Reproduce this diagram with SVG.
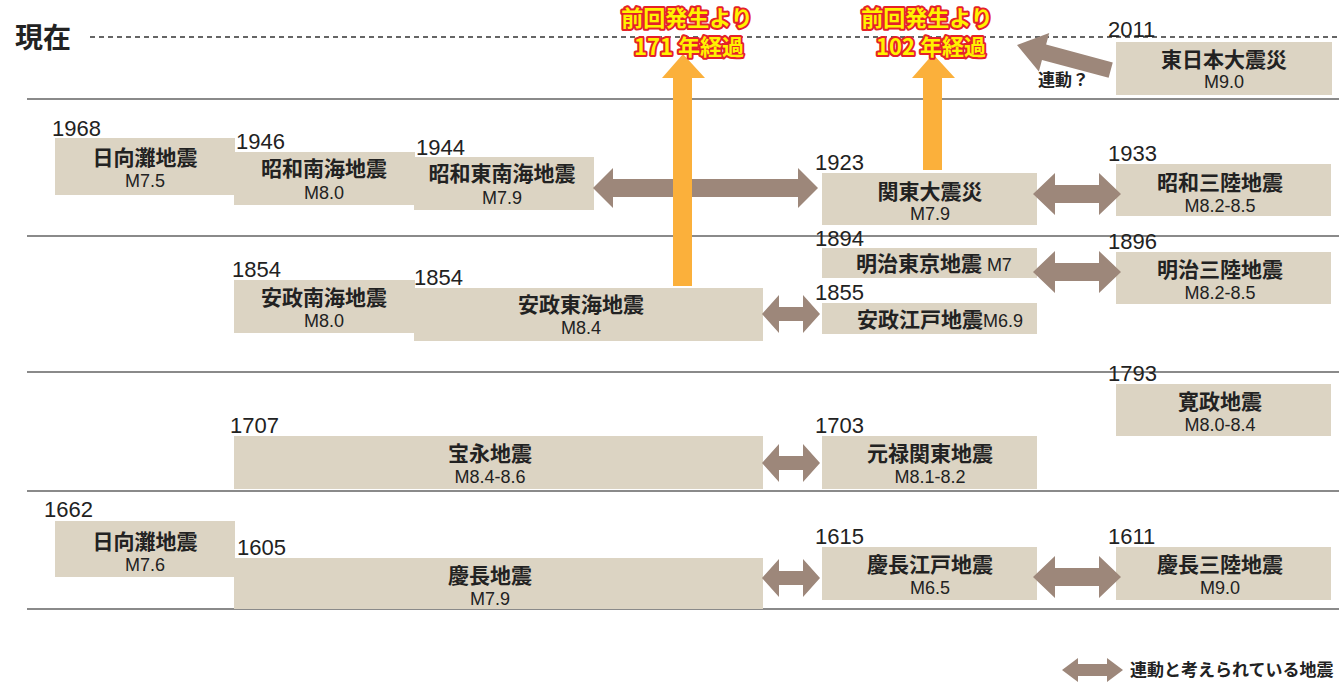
<svg xmlns="http://www.w3.org/2000/svg" width="1339" height="688" viewBox="0 0 1339 688">
<style>
.bg{fill:#ffffff}
.rule{stroke:#8a8a8a;stroke-width:2;fill:none}
.dash{stroke:#333333;stroke-width:1.5;stroke-dasharray:5 4;fill:none}
.box{fill:#dcd4c3}
.nm{font-family:"Noto Sans CJK JP","Noto Sans",sans-serif;font-size:21px;font-weight:700;fill:#222222;text-anchor:middle}
.mg{font-family:"Liberation Sans","Noto Sans",sans-serif;font-size:18px;fill:#222222;text-anchor:middle}
.yr{font-family:"Liberation Sans","Noto Sans",sans-serif;font-size:22px;fill:#222222}
.dbl{fill:#9d877a}
.ora{fill:#fbb03b}
.lbl{font-family:"Noto Sans CJK JP","Noto Sans",sans-serif;font-size:22px;font-weight:700;fill:#fff200;stroke:#e52129;stroke-width:4;stroke-linejoin:round;paint-order:stroke;text-anchor:middle}
.now{font-family:"Noto Sans CJK JP","Noto Sans",sans-serif;font-size:28px;font-weight:700;fill:#222222}
.sm{font-family:"Noto Sans CJK JP","Noto Sans",sans-serif;font-size:17px;font-weight:700;fill:#222222}
</style>
<rect class="bg" x="0" y="0" width="1339" height="688"/>
<g id="grid">
<line class="dash" x1="90" y1="37" x2="1339" y2="37"/>
<line class="rule" x1="27" y1="99" x2="1339" y2="99"/>
<line class="rule" x1="27" y1="236" x2="1339" y2="236"/>
<line class="rule" x1="27" y1="372" x2="1339" y2="372"/>
<line class="rule" x1="27" y1="491" x2="1339" y2="491"/>
<line class="rule" x1="27" y1="609" x2="1339" y2="609"/>
<text class="now" x="15" y="48">現在</text>
</g>
<g id="n2011"><rect class="box" x="1116" y="42" width="216" height="53"/><text class="yr" x="1108" y="37">2011</text><text class="nm" x="1224" y="67">東日本大震災</text><text class="mg" x="1224" y="88">M9.0</text></g>
<g id="n1968"><rect class="box" x="55" y="138" width="180" height="57"/><text class="yr" x="52" y="136">1968</text><text class="nm" x="145" y="165">日向灘地震</text><text class="mg" x="145" y="187">M7.5</text></g>
<g id="n1946"><rect class="box" x="234" y="152" width="181" height="53"/><text class="yr" x="236" y="149">1946</text><text class="nm" x="324" y="176">昭和南海地震</text><text class="mg" x="324" y="199">M8.0</text></g>
<g id="n1944"><rect class="box" x="414" y="157" width="180" height="53"/><text class="yr" x="416" y="155">1944</text><text class="nm" x="502" y="181">昭和東南海地震</text><text class="mg" x="502" y="204">M7.9</text></g>
<g id="n1923"><rect class="box" x="822" y="173" width="215" height="52"/><text class="yr" x="815" y="170">1923</text><text class="nm" x="930" y="199">関東大震災</text><text class="mg" x="930" y="220">M7.9</text></g>
<g id="n1933"><rect class="box" x="1116" y="164" width="215" height="52"/><text class="yr" x="1108" y="161">1933</text><text class="nm" x="1220" y="190">昭和三陸地震</text><text class="mg" x="1220" y="212">M8.2-8.5</text></g>
<g id="n1894"><rect class="box" x="822" y="248" width="215" height="30"/><text class="yr" x="815" y="246">1894</text><text class="nm" x="934" y="271">明治東京地震 <tspan style="font-family:'Liberation Sans',sans-serif;font-weight:400;font-size:18px">M7</tspan></text></g>
<g id="n1896"><rect class="box" x="1116" y="252" width="215" height="52"/><text class="yr" x="1108" y="249">1896</text><text class="nm" x="1220" y="277">明治三陸地震</text><text class="mg" x="1220" y="299">M8.2-8.5</text></g>
<g id="n1855"><rect class="box" x="822" y="303" width="215" height="31"/><text class="yr" x="815" y="300">1855</text><text class="nm" x="940" y="327">安政江戸地震<tspan style="font-family:'Liberation Sans',sans-serif;font-weight:400;font-size:18px">M6.9</tspan></text></g>
<g id="n1854a"><rect class="box" x="234" y="280" width="181" height="53"/><text class="yr" x="232" y="277">1854</text><text class="nm" x="324" y="305">安政南海地震</text><text class="mg" x="324" y="327">M8.0</text></g>
<g id="n1854b"><rect class="box" x="414" y="288" width="349" height="53"/><text class="yr" x="414" y="285">1854</text><text class="nm" x="581" y="312">安政東海地震</text><text class="mg" x="581" y="334">M8.4</text></g>
<g id="n1793"><rect class="box" x="1116" y="384" width="215" height="52"/><text class="yr" x="1108" y="381">1793</text><text class="nm" x="1220" y="409">寛政地震</text><text class="mg" x="1220" y="431">M8.0-8.4</text></g>
<g id="n1707"><rect class="box" x="234" y="436" width="529" height="53"/><text class="yr" x="230" y="433">1707</text><text class="nm" x="490" y="461">宝永地震</text><text class="mg" x="490" y="483">M8.4-8.6</text></g>
<g id="n1703"><rect class="box" x="822" y="436" width="215" height="53"/><text class="yr" x="815" y="433">1703</text><text class="nm" x="930" y="461">元禄関東地震</text><text class="mg" x="930" y="483">M8.1-8.2</text></g>
<g id="n1662"><rect class="box" x="55" y="521" width="180" height="56"/><text class="yr" x="44" y="517">1662</text><text class="nm" x="145" y="549">日向灘地震</text><text class="mg" x="145" y="571">M7.6</text></g>
<g id="n1605"><rect class="box" x="234" y="558" width="529" height="51"/><text class="yr" x="237" y="555">1605</text><text class="nm" x="490" y="583">慶長地震</text><text class="mg" x="490" y="605">M7.9</text></g>
<g id="n1615"><rect class="box" x="822" y="547" width="215" height="53"/><text class="yr" x="815" y="544">1615</text><text class="nm" x="930" y="572">慶長江戸地震</text><text class="mg" x="930" y="594">M6.5</text></g>
<g id="n1611"><rect class="box" x="1116" y="547" width="215" height="53"/><text class="yr" x="1108" y="544">1611</text><text class="nm" x="1220" y="572">慶長三陸地震</text><text class="mg" x="1220" y="594">M9.0</text></g>
<g id="connectors">
<path class="dbl" d="M593 188 L613 168 L613 179 L798 179 L798 168 L818 188 L798 208 L798 197 L613 197 L613 208 Z"/>
<path class="dbl" d="M1033 194 L1055 173 L1055 185 L1099 185 L1099 173 L1121 194 L1099 215 L1099 203 L1055 203 L1055 215 Z"/>
<path class="dbl" d="M1033 272 L1055 251 L1055 263 L1099 263 L1099 251 L1121 272 L1099 293 L1099 281 L1055 281 L1055 293 Z"/>
<path class="dbl" d="M1033 577 L1055 556 L1055 568 L1099 568 L1099 556 L1121 577 L1099 598 L1099 586 L1055 586 L1055 598 Z"/>
<path class="dbl" d="M762 314 L779 295 L779 307 L803 307 L803 295 L820 314 L803 333 L803 321 L779 321 L779 333 Z"/>
<path class="dbl" d="M762 463 L779 444 L779 456 L803 456 L803 444 L820 463 L803 482 L803 470 L779 470 L779 482 Z"/>
<path class="dbl" d="M762 578 L779 559 L779 571 L803 571 L803 559 L820 578 L803 597 L803 585 L779 585 L779 597 Z"/>
<path class="dbl" transform="translate(1017 45) rotate(15)" d="M0 0 L28 -20 L28 -8 L97 -8 L97 8 L28 8 L28 20 Z"/>
<path class="ora" d="M673 286 L673 78 L662 78 L683 54 L705 78 L692 78 L692 286 Z"/>
<path class="ora" d="M923 170 L923 78 L912 78 L933 54 L955 78 L942 78 L942 170 Z"/>
</g>
<g id="labels">
<text class="lbl" x="687" y="26">前回発生より</text>
<text class="lbl" x="689" y="55">171 年経過</text>
<text class="lbl" x="927" y="26">前回発生より</text>
<text class="lbl" x="931" y="55">102 年経過</text>
<text class="sm" x="1038" y="86">連動？</text>
</g>
<g id="legend">
<path class="dbl" d="M1062 670 L1078 658 L1078 664 L1107 664 L1107 658 L1123 670 L1107 682 L1107 676 L1078 676 L1078 682 Z"/>
<text class="sm" x="1130" y="676">連動と考えられている地震</text>
</g>
</svg>
